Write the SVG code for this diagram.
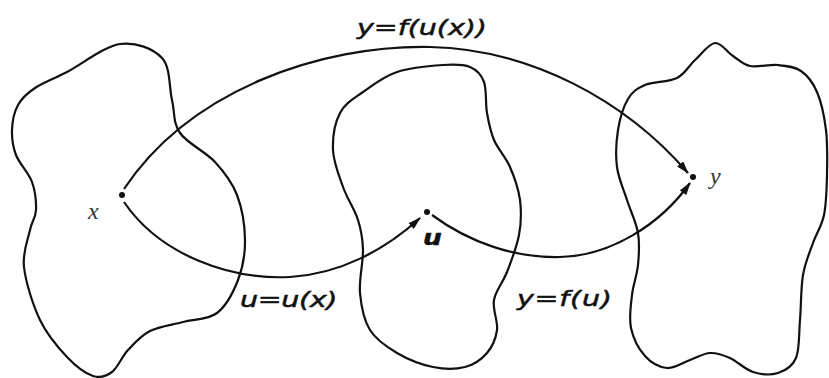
<svg xmlns="http://www.w3.org/2000/svg" width="829" height="378" viewBox="0 0 829 378">
<style>
.blob{fill:none;stroke:#111;stroke-width:2.2}
.conn{fill:none;stroke:#111;stroke-width:2.2;marker-end:url(#ah)}
.lbl{font-family:"DejaVu Sans",Verdana,sans-serif;font-style:italic;font-size:22px;fill:#111;stroke:#111;stroke-width:0.5}
.var{font-family:"Liberation Serif","DejaVu Serif",serif;font-style:italic;font-size:24px;fill:#333}
.dot{fill:#111}
</style>
<defs>
<marker id="ah" viewBox="0 0 13 8" refX="12" refY="4" markerWidth="13" markerHeight="8" markerUnits="userSpaceOnUse" orient="auto">
<path d="M0,0 L13,4 L0,8 Z" fill="#111"/>
</marker>
</defs>
<rect width="829" height="378" fill="#fff"/>
<g id="setX">
<path class="blob" d="M35,88 C43.2,82.5 52.8,79.3 67,72 S104.2,46.3 120,44 S153.3,48.7 162,58 S169,87.5 172,100 S172.8,122.7 180,133 S205.5,151.7 215,162 S232,182 237,195 S244.8,225.8 245,240 S242.7,267.8 238,280 S226.2,306 217,313 S194.2,319 183,322 S159.2,326.3 150,331 S134.3,343.2 128,350 S117.8,367.7 112,372 S100.5,378.5 93,376 S75.8,366.3 67,357 S47.2,335 40,320 S25.7,282 24,267 S28,239.5 30,230 S35.7,218 36,210 S35.3,191.2 32,182 S19.3,163.7 16,155 S11.7,138.3 12,130 S14.2,112 18,105 S26.8,93.5 35,88 Z"/>
<circle class="dot" cx="122" cy="195" r="3"/>
<text class="var" x="88" y="219">x</text>
</g>
<g id="setU">
<path class="blob" d="M443,65 C455.2,64.2 463.2,64.2 470,67 S481.2,74.3 484,82 S485.3,103.3 487,113 S490.2,131 494,140 S505.7,157 510,167 S518.5,188.7 520,200 S521.2,223 519,235 S511.2,261.2 507,272 S495.7,290.3 494,300 S498.2,321.2 497,330 S492.3,346.8 487,353 S474,364.7 465,367 S444.3,369.3 433,367 S407.5,359.2 397,353 S376.2,340 370,330 S361.2,306.3 360,293 S363.3,262.2 363,250 S361.3,230.5 358,220 S347.2,198.7 343,187 S333.5,162.3 333,150 S335,122.7 340,113 S353.5,98.8 363,92 S383.7,76.5 397,72 S430.8,65.8 443,65 Z"/>
<circle class="dot" cx="427" cy="212" r="3"/>
<text class="lbl" transform="translate(423,245) scale(1.2,1)" font-weight="bold" font-size="20">u</text>
</g>
<g id="setY">
<path class="blob" d="M715,43 C721.3,42.3 727.2,52.2 733,56 S742.5,64.5 750,66 S769.5,64.2 778,65 S794.5,66.5 801,71 S812.8,82.2 817,92 S824.3,116.2 826,130 S827.3,160.8 827,175 S826.3,203.7 824,215 S816.5,233 813,243 S805.2,262.2 803,275 S801.2,306.2 800,320 S799.7,349.2 796,358 S785.2,370.7 778,373 S761,374.5 753,372 S737.2,361.2 730,358 S716.7,352.7 710,353 S697.2,357.5 690,360 S674.5,368.7 667,368 S651,362.7 645,356 S633.2,338.2 631,328 S630.8,305.5 632,295 S637,275.3 638,265 S639.8,243.8 638,233 S630.5,211 627,200 S618.5,178.7 617,167 S616.2,141.3 618,130 S623.5,106.5 628,99 S636.8,88.5 645,85 S668.7,82.2 677,78 S688.7,65.8 695,60 S708.7,43.7 715,43 Z"/>
<circle class="dot" cx="693" cy="177" r="3"/>
<text class="var" x="710" y="184">y</text>
</g>
<g id="connectors">
<path class="conn" d="M124,189 C190,90 320,45 430,47 C530,49 625,100 688,173"/>
<path class="conn" d="M124,202 C160,255 230,280 290,277 C340,274 385,250 420,218"/>
<path class="conn" d="M432,215 C470,243 515,258 560,257 C610,256 660,225 690,183"/>
<text class="lbl" transform="translate(357,35) scale(1.3,1)" textLength="100" lengthAdjust="spacing">y=f(u(x))</text>
<text class="lbl" transform="translate(240,307) scale(1.3,1)" textLength="75" lengthAdjust="spacing">u=u(x)</text>
<text class="lbl" transform="translate(517,306) scale(1.3,1)" textLength="73" lengthAdjust="spacing">y=f(u)</text>
</g>
</svg>
